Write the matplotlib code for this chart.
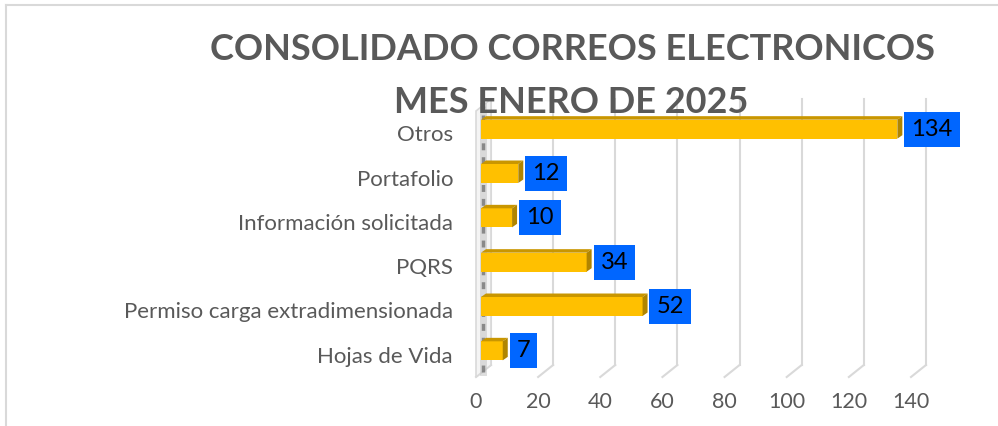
import matplotlib
matplotlib.use("Agg")
import matplotlib.pyplot as plt
from matplotlib.patches import Polygon, Rectangle
from matplotlib.lines import Line2D

# datos del consolidado
categorias = ["Hojas de Vida", "Permiso carga extradimensionada", "PQRS",
              "Información solicitada", "Portafolio", "Otros"]
cantidades = [7, 52, 34, 10, 12, 134]
ticks_x = [0, 20, 40, 60, 80, 100, 120, 140]
titulo = ["CONSOLIDADO CORREOS ELECTRONICOS", "MES ENERO DE 2025"]

plt.rcParams["font.family"] = ["Lato", "DejaVu Sans"]

GRIS = "#595959"
GRID = "#D9D9D9"
W, H = 998, 426
fig = plt.figure(figsize=(W / 100, H / 100), dpi=100)

# plano frontal del grafico en pixeles
x0, x1 = 476, 911
y_top, y_bot = 111, 377
ax = fig.add_axes([x0 / W, (H - y_bot) / H, (x1 - x0) / W, (y_bot - y_top) / H])
ax.set_xlim(0, 140)
ax.set_ylim(-0.5, 5.5)
px_x = (x1 - x0) / 140
px_y = (y_bot - y_top) / 6

# profundidad del fondo (efecto 3D)
fx, fy = 15 / px_x, 12 / px_y

for t in ticks_x:
    ax.plot([t + fx, t + fx], [-0.5 + fy, 5.5 + fy], color=GRID, lw=1.5,
            clip_on=False, zorder=1)
    ax.plot([t, t + fx], [-0.5, -0.5 + fy], color=GRID, lw=1.5,
            clip_on=False, zorder=1)

# pared izquierda
pared = Polygon([(0, -0.5), (0, 5.5), (fx, 5.5 + fy), (fx, -0.5 + fy)],
                closed=True, fc="#F4F4F4", ec=GRID, lw=1.2, clip_on=False, zorder=1)
ax.add_patch(pared)
ax.plot([fx * 0.45, fx * 0.45], [-0.5 + fy * 0.45, 5.5 + fy * 0.45],
        color="#C8C8C8", lw=5, alpha=0.6, clip_on=False, zorder=1)
ax.plot([fx * 0.45, fx * 0.45], [-0.5 + fy * 0.45, 5.5 + fy * 0.45],
        color="#555555", lw=2.5, alpha=0.6, dashes=(2, 2), clip_on=False, zorder=1)

# barras 3D
bx, by = 5 / px_x, 4 / px_y
alto = 19 / px_y
dx, dy = 5 / px_x, 3.5 / px_y
for i, v in enumerate(cantidades):
    yb = i + by - alto / 2
    yt = i + by + alto / 2
    ax.add_patch(Rectangle((bx, yb), v, alto, fc="#FFC000", ec="none",
                           clip_on=False, zorder=3))
    ax.add_patch(Polygon([(bx, yt), (bx + v, yt), (bx + v + dx, yt + dy), (bx + dx, yt + dy)],
                         closed=True, fc="#C99600", ec="none", clip_on=False, zorder=3))
    ax.add_patch(Polygon([(bx + v, yb), (bx + v, yt), (bx + v + dx, yt + dy), (bx + v + dx, yb + dy)],
                         closed=True, fc="#B08500", ec="none", clip_on=False, zorder=3))
    ax.text(bx + v + 14 / px_x, i + by, f"{v}", ha="left", va="center",
            fontsize=17, color="black", zorder=5,
            bbox=dict(boxstyle="square,pad=0.3", fc="#0066FF", ec="none"))

ax.set_yticks(range(len(categorias)))
ax.set_yticklabels(categorias, fontsize=16, color=GRIS)
ax.set_xticks(ticks_x)
ax.set_xticklabels([str(t) for t in ticks_x], fontsize=15.5, color=GRIS)
ax.tick_params(axis="y", length=0, pad=16.5)
ax.tick_params(axis="x", length=0, pad=11)
for s in ax.spines.values():
    s.set_visible(False)
ax.patch.set_alpha(0)

# titulo
fig.text(572 / W, 1 - 60 / H, titulo[0], ha="center", va="baseline",
         fontsize=26, fontweight="bold", color=GRIS)
fig.text(571 / W, 1 - 113 / H, titulo[1], ha="center", va="baseline",
         fontsize=26, fontweight="bold", color=GRIS, zorder=10)

# marco del area del grafico
fig.add_artist(Line2D([6 / W, 1], [1 - 5 / H, 1 - 5 / H], color=GRID, lw=1.5))
fig.add_artist(Line2D([6 / W, 6 / W], [0, 1 - 5 / H], color=GRID, lw=1.5))

fig.savefig("out.png", dpi=100)
